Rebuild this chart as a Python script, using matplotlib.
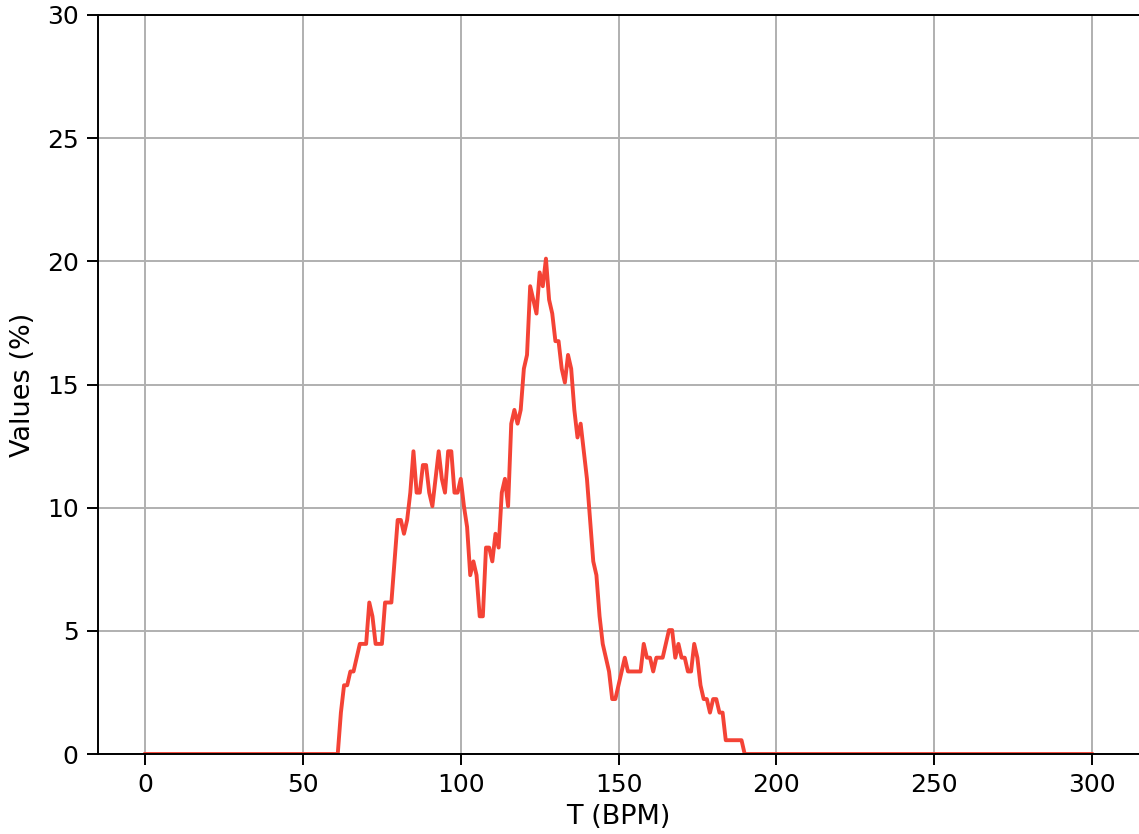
import numpy as np
import matplotlib
matplotlib.use("Agg")
import matplotlib.pyplot as plt

# tempo axis, 1 BPM steps
bpm = np.arange(0, 301)

# percentage values for 61..190 BPM, zero elsewhere
active = [
    0.0, 1.68, 2.79, 2.79, 3.35, 3.35, 3.91, 4.47, 4.47, 4.47,         # 61-70
    6.15, 5.59, 4.47, 4.47, 4.47, 6.15, 6.15, 6.15, 7.82, 9.50,        # 71-80
    9.50, 8.94, 9.50, 10.61, 12.29, 10.61, 10.61, 11.73, 11.73, 10.61,  # 81-90
    10.06, 11.17, 12.29, 11.17, 10.61, 12.29, 12.29, 10.61, 10.61, 11.17,  # 91-100
    10.06, 9.22, 7.26, 7.82, 7.26, 5.59, 5.59, 8.38, 8.38, 7.82,       # 101-110
    8.94, 8.38, 10.61, 11.17, 10.06, 13.41, 13.97, 13.41, 13.97, 15.64,  # 111-120
    16.20, 18.99, 18.44, 17.88, 19.55, 18.99, 20.11, 18.44, 17.88, 16.76,  # 121-130
    16.76, 15.64, 15.08, 16.20, 15.64, 13.97, 12.85, 13.41, 12.29, 11.17,  # 131-140
    9.50, 7.82, 7.26, 5.59, 4.47, 3.91, 3.35, 2.23, 2.23, 2.79,        # 141-150
    3.35, 3.91, 3.35, 3.35, 3.35, 3.35, 3.35, 4.47, 3.91, 3.91,        # 151-160
    3.35, 3.91, 3.91, 3.91, 4.47, 5.03, 5.03, 3.91, 4.47, 3.91,        # 161-170
    3.91, 3.35, 3.35, 4.47, 3.91, 2.79, 2.23, 2.23, 1.68, 2.23,        # 171-180
    2.23, 1.68, 1.68, 0.56, 0.56, 0.56, 0.56, 0.56, 0.56, 0.0,         # 181-190
]
values = [0.0] * 61 + active + [0.0] * 110

x_ticks = [0, 50, 100, 150, 200, 250, 300]
y_ticks = [0, 5, 10, 15, 20, 25, 30]

fig = plt.figure(figsize=(11.39, 8.34), dpi=100)
ax = fig.add_axes([98 / 1139, 80 / 834, 1041 / 1139, 739 / 834])

ax.plot(bpm, values, color="#f44336", linewidth=2.8)

ax.set_xlim(-15, 315)
ax.set_ylim(0, 30)
ax.set_xticks(x_ticks)
ax.set_yticks(y_ticks)
ax.grid(True, color="#b0b0b0", linewidth=1.4)
ax.set_axisbelow(True)

ax.spines["right"].set_visible(False)
for side in ("left", "bottom", "top"):
    ax.spines[side].set_linewidth(1.4)
ax.tick_params(axis="both", labelsize=18, length=8, width=1.4, pad=6)

ax.set_xlabel("T (BPM)", fontsize=19.5, labelpad=5)
ax.set_ylabel("Values (%)", fontsize=19.5, labelpad=8)

fig.savefig("out.png", dpi=100)
